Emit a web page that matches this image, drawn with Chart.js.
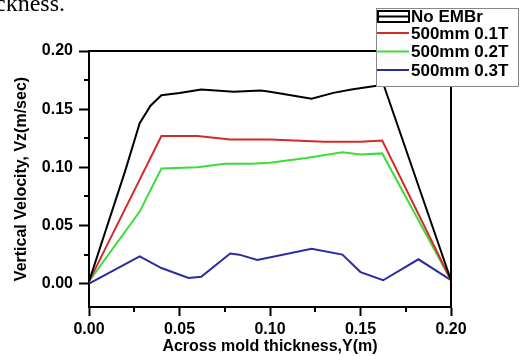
<!DOCTYPE html>
<html>
<head>
<meta charset="utf-8">
<script src="https://cdn.jsdelivr.net/npm/chart.js@4.4.0/dist/chart.umd.min.js"></script>
<style>
  html, body { margin: 0; padding: 0; background: #fff; overflow: hidden; }
  #wrap { position: relative; width: 521px; height: 356px; }
  #velChart { position: absolute; left: 0; top: 0; }
  #caption { position: absolute; right: 456px; top: -9px; font: 24px 'Liberation Serif', serif; line-height: 24px; white-space: nowrap; color: #000; }
</style>
</head>
<body>
<div id="wrap">
  <canvas id="velChart" width="521" height="356"></canvas>
  <div id="caption">thickness.</div>
</div>
<script>
// axis ticks
const xTicks = [0, 0.05, 0.10, 0.15, 0.20];
const xMinor = [0.025, 0.075, 0.125, 0.175];
const yTicks = [0, 0.05, 0.10, 0.15, 0.20];
const yMinor = [0.025, 0.075, 0.125, 0.175];

// vertical velocity across the mold (Y in m, Vz in m/s)
const noEmbrX = [0, 0.02, 0.028, 0.034, 0.04, 0.05, 0.062, 0.08, 0.095, 0.1, 0.123, 0.135, 0.145, 0.158, 0.163, 0.2];
const noEmbrY = [0.002, 0.097, 0.138, 0.153, 0.162, 0.164, 0.167, 0.165, 0.166, 0.165, 0.159, 0.164, 0.167, 0.17, 0.17, 0.003];

const t01X = [0, 0.04, 0.06, 0.078, 0.1, 0.13, 0.15, 0.162, 0.2];
const t01Y = [0.002, 0.127, 0.127, 0.124, 0.124, 0.122, 0.122, 0.123, 0.003];

const t02X = [0, 0.028, 0.04, 0.06, 0.075, 0.09, 0.1, 0.12, 0.14, 0.15, 0.162, 0.2];
const t02Y = [0.002, 0.062, 0.099, 0.1, 0.103, 0.103, 0.104, 0.108, 0.113, 0.111, 0.112, 0.003];

const t03X = [0, 0.028, 0.04, 0.055, 0.062, 0.078, 0.083, 0.093, 0.123, 0.14, 0.15, 0.1625, 0.182, 0.2];
const t03Y = [0, 0.0235, 0.0135, 0.005, 0.006, 0.026, 0.025, 0.0205, 0.030, 0.025, 0.010, 0.003, 0.021, 0.003];

const seriesLabels = ['No EMBr', '500mm 0.1T', '500mm 0.2T', '500mm 0.3T'];
const seriesColors = ['#000000', '#d42a2a', '#3ddc3d', '#2b2b9e'];

const toPoints = (xs, ys) => xs.map((x, i) => ({ x: x, y: ys[i] }));
const seriesData = [toPoints(noEmbrX, noEmbrY), toPoints(t01X, t01Y), toPoints(t02X, t02Y), toPoints(t03X, t03Y)];

const AREA = { left: 89, right: 451, top: 51, bottom: 307 };
const PAD = { left: 12, top: AREA.top, right: 521 - AREA.right, bottom: 0 };

// minor ticks, closing frame lines and the boxed legend
const extras = {
  id: 'extras',
  afterDraw(chart) {
    const { ctx, chartArea: a, scales: { x, y } } = chart;
    ctx.save();
    ctx.strokeStyle = '#000';
    ctx.lineWidth = 2;
    ctx.beginPath();
    xMinor.forEach(v => {
      const px = Math.round(x.getPixelForValue(v));
      ctx.moveTo(px, a.bottom); ctx.lineTo(px, a.bottom + 5);
    });
    yMinor.forEach(v => {
      const py = Math.round(y.getPixelForValue(v));
      ctx.moveTo(a.left, py); ctx.lineTo(a.left - 5, py);
    });
    // top and right edges of the frame
    ctx.moveTo(a.left, a.top); ctx.lineTo(a.right, a.top); ctx.lineTo(a.right, a.bottom);
    ctx.stroke();

    // legend
    const bx = 376, by = 8, bw = 142, bh = 78;
    ctx.fillStyle = '#fff';
    ctx.fillRect(bx, by, bw, bh);
    ctx.lineWidth = 1;
    ctx.strokeStyle = '#888';
    ctx.strokeRect(bx + 0.5, by + 0.5, bw, bh);
    ctx.font = 'bold 17px "Liberation Sans", Arial, sans-serif';
    ctx.textBaseline = 'middle';
    ctx.fillStyle = '#000';
    const rows = [16, 33, 51.5, 70];
    chart.data.datasets.forEach((ds, i) => {
      const ry = rows[i];
      ctx.strokeStyle = ds.borderColor;
      ctx.lineWidth = 2;
      if (i === 0) {
        ctx.strokeRect(378, ry - 5, 31, 11);
        ctx.beginPath(); ctx.moveTo(378, ry + 0.5); ctx.lineTo(409, ry + 0.5); ctx.stroke();
      } else {
        ctx.beginPath(); ctx.moveTo(377, ry); ctx.lineTo(409, ry); ctx.stroke();
      }
      ctx.fillText(ds.label, 411, ry + 1);
    });
    ctx.restore();
  }
};

const tickFont = { family: '"Liberation Sans", Arial, sans-serif', size: 16, weight: 'bold' };
const titleFont = { family: '"Liberation Sans", Arial, sans-serif', size: 16, weight: 'bold' };

new Chart(document.getElementById('velChart'), {
  type: 'line',
  data: {
    datasets: seriesData.map((pts, i) => ({
      label: seriesLabels[i],
      data: pts,
      borderColor: seriesColors[i],
      backgroundColor: seriesColors[i],
      borderWidth: 2,
      pointRadius: 0,
      tension: 0,
      fill: false
    }))
  },
  options: {
    responsive: false,
    animation: false,
    events: [],
    layout: { padding: PAD },
    plugins: { legend: { display: false }, tooltip: { enabled: false } },
    scales: {
      x: {
        type: 'linear',
        min: 0,
        max: 0.2,
        afterBuildTicks: s => { s.ticks = xTicks.map(v => ({ value: v })); },
        afterFit: s => { s.height = 356 - AREA.bottom - PAD.bottom; },
        ticks: { color: '#000', font: tickFont, padding: 4, maxRotation: 0, callback: v => v.toFixed(2) },
        grid: { drawOnChartArea: false, tickLength: 9, tickColor: '#000', tickWidth: 2 },
        border: { color: '#000', width: 2 },
        title: { display: true, text: 'Across mold thickness,Y(m)', color: '#000', font: titleFont, padding: 0 }
      },
      y: {
        type: 'linear',
        min: -0.02,
        max: 0.2,
        afterBuildTicks: s => { s.ticks = yTicks.map(v => ({ value: v })); },
        afterFit: s => { s.width = AREA.left - PAD.left; },
        ticks: { color: '#000', font: tickFont, padding: 6, callback: v => v.toFixed(2) },
        grid: { drawOnChartArea: false, tickLength: 10, tickColor: '#000', tickWidth: 2 },
        border: { color: '#000', width: 2 },
        title: { display: true, text: 'Vertical Velocity, Vz(m/sec)', color: '#000', font: titleFont, padding: 0 }
      }
    }
  },
  plugins: [extras]
});
</script>
</body>
</html>
